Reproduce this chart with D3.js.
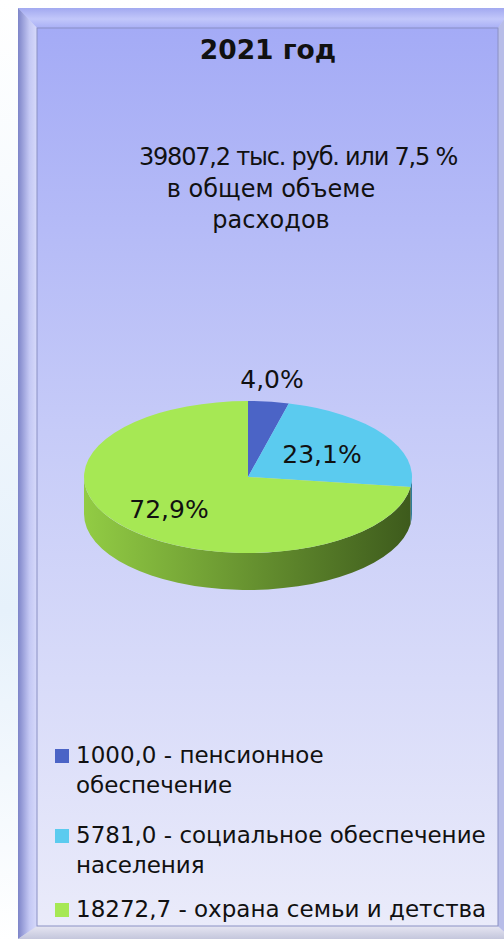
<!DOCTYPE html>
<html>
<head>
<meta charset="utf-8">
<script src="https://cdn.jsdelivr.net/npm/d3@7"></script>
<style>
  body { margin: 0; background: #ffffff; }
  svg { display: block; }
  text { font-family: "DejaVu Sans", Verdana, sans-serif; fill: #111; }
</style>
</head>
<body>
<div id="chart"></div>
<script>
// data
var title = "2021 год";
var subtitle = ["39807,2 тыс. руб. или 7,5 %", "в общем объеме", "расходов"];
var shares = [4.0, 23.1, 72.9];
var shareLabels = ["4,0%", "23,1%", "72,9%"];
var legendLines = [
    ["1000,0 - пенсионное", "обеспечение"],
    ["5781,0 - социальное обеспечение", "населения"],
    ["18272,7 - охрана семьи и детства"]
];
var colors = ["#4b64c6", "#5bcbef", "#a6e854"];
var sideDark = ["#2c3d80", "#2f7d99", "#3d5a1c"];
var sideLight = ["#4b64c6", "#58bde0", "#92cc44"];

var width = 504, height = 940;

var svg = d3.select("#chart").append("svg")
    .attr("width", width)
    .attr("height", height);

var defs = svg.append("defs");

// page background with a faint blue haze on the left
var bgGrad = defs.append("linearGradient").attr("id", "pagebg")
    .attr("x1", 0).attr("y1", 0).attr("x2", 0).attr("y2", 1);
bgGrad.append("stop").attr("offset", "0%").attr("stop-color", "#ffffff");
bgGrad.append("stop").attr("offset", "65%").attr("stop-color", "#e6f1fb");
bgGrad.append("stop").attr("offset", "100%").attr("stop-color", "#ffffff");
svg.append("rect").attr("width", width).attr("height", height).attr("fill", "url(#pagebg)");

// frame geometry
var outer = {x0: 18, y0: 8, x1: 512, y1: 939};
var inner = {x0: 37, y0: 28, x1: 498, y1: 926};

var panelGrad = defs.append("linearGradient").attr("id", "panel")
    .attr("x1", 0).attr("y1", 0).attr("x2", 0).attr("y2", 1);
panelGrad.append("stop").attr("offset", "0%").attr("stop-color", "#a4abf6");
panelGrad.append("stop").attr("offset", "45%").attr("stop-color", "#c6cbf8");
panelGrad.append("stop").attr("offset", "100%").attr("stop-color", "#eaebfa");

var leftGrad = defs.append("linearGradient").attr("id", "bevelLeft")
    .attr("x1", 0).attr("y1", 0).attr("x2", 1).attr("y2", 0);
leftGrad.append("stop").attr("offset", "0%").attr("stop-color", "#7d84c8");
leftGrad.append("stop").attr("offset", "60%").attr("stop-color", "#c4c8f4");
leftGrad.append("stop").attr("offset", "100%").attr("stop-color", "#d6d9fa");

var topGrad = defs.append("linearGradient").attr("id", "bevelTop")
    .attr("x1", 0).attr("y1", 0).attr("x2", 0).attr("y2", 1);
topGrad.append("stop").attr("offset", "0%").attr("stop-color", "#a2a9f0");
topGrad.append("stop").attr("offset", "55%").attr("stop-color", "#c2c7fa");
topGrad.append("stop").attr("offset", "100%").attr("stop-color", "#a9b0f6");

var bottomGrad = defs.append("linearGradient").attr("id", "bevelBottom")
    .attr("x1", 0).attr("y1", 0).attr("x2", 0).attr("y2", 1);
bottomGrad.append("stop").attr("offset", "0%").attr("stop-color", "#e6e6f2");
bottomGrad.append("stop").attr("offset", "100%").attr("stop-color", "#c4c6dc");

var frame = svg.append("g");
frame.append("rect")
    .attr("x", outer.x0).attr("y", outer.y0)
    .attr("width", outer.x1 - outer.x0).attr("height", outer.y1 - outer.y0)
    .attr("fill", "#c8ccf6");
frame.append("polygon")
    .attr("points", [[outer.x0, outer.y0], [outer.x1, outer.y0], [inner.x1, inner.y0], [inner.x0, inner.y0]].join(" "))
    .attr("fill", "url(#bevelTop)");
frame.append("polygon")
    .attr("points", [[outer.x0, outer.y0], [inner.x0, inner.y0], [inner.x0, inner.y1], [outer.x0, outer.y1]].join(" "))
    .attr("fill", "url(#bevelLeft)");
frame.append("polygon")
    .attr("points", [[outer.x0, outer.y1], [inner.x0, inner.y1], [inner.x1, inner.y1], [outer.x1, outer.y1]].join(" "))
    .attr("fill", "url(#bevelBottom)");
frame.append("polygon")
    .attr("points", [[outer.x1, outer.y0], [outer.x1, outer.y1], [inner.x1, inner.y1], [inner.x1, inner.y0]].join(" "))
    .attr("fill", "#b8bde8");
frame.append("rect")
    .attr("x", inner.x0).attr("y", inner.y0)
    .attr("width", inner.x1 - inner.x0).attr("height", inner.y1 - inner.y0)
    .attr("fill", "url(#panel)")
    .attr("stroke", "#8a90c4")
    .attr("stroke-width", 1);

// title + subtitle
svg.append("text")
    .attr("x", 268).attr("y", 59)
    .attr("text-anchor", "middle")
    .attr("font-size", 26.5)
    .attr("font-weight", "bold")
    .text(title);

var subX = [298, 271, 271];
var subY = [165, 197, 228];
svg.selectAll(".sub")
    .data(subtitle)
    .enter().append("text")
    .attr("class", "sub")
    .attr("x", (d, i) => subX[i])
    .attr("y", (d, i) => subY[i])
    .attr("text-anchor", "middle")
    .attr("font-size", 24)
    .attr("letter-spacing", (d, i) => i === 0 ? -1.2 : 0)
    .text(d => d);

// 3d pie
var cx = 248, cy = 477, rx = 164, ry = 76, depth = 37;

var pie = d3.pie().sort(null).value(d => d);
var arcs = pie(shares);

function pt(a, dy) {
    return [cx + rx * Math.sin(a), cy - ry * Math.cos(a) + (dy || 0)];
}

function topPath(d) {
    var p0 = pt(d.startAngle), p1 = pt(d.endAngle);
    var large = d.endAngle - d.startAngle > Math.PI ? 1 : 0;
    return "M" + cx + "," + cy + "L" + p0 + "A" + rx + "," + ry + " 0 " + large + " 1 " + p1 + "Z";
}

function sidePath(d) {
    var s = Math.max(d.startAngle, Math.PI / 2);
    var e = Math.min(d.endAngle, Math.PI * 3 / 2);
    if (s >= e) return null;
    var a = pt(s), b = pt(e), c = pt(e, depth), f = pt(s, depth);
    return "M" + a + "A" + rx + "," + ry + " 0 0 1 " + b +
        "L" + c + "A" + rx + "," + ry + " 0 0 0 " + f + "Z";
}

arcs.forEach(function(d, i) {
    var g = defs.append("linearGradient").attr("id", "side" + i)
        .attr("gradientUnits", "userSpaceOnUse")
        .attr("x1", cx - rx).attr("y1", 0).attr("x2", cx + rx).attr("y2", 0);
    g.append("stop").attr("offset", "0%").attr("stop-color", sideLight[i]);
    g.append("stop").attr("offset", "100%").attr("stop-color", sideDark[i]);
});

var pieG = svg.append("g");
pieG.selectAll(".side")
    .data(arcs.filter(d => sidePath(d)))
    .enter().append("path")
    .attr("class", "side")
    .attr("d", sidePath)
    .attr("fill", d => "url(#side" + d.index + ")");

pieG.selectAll(".top")
    .data(arcs)
    .enter().append("path")
    .attr("class", "top")
    .attr("d", topPath)
    .attr("fill", (d, i) => colors[i]);

// data labels
var labelPos = [[272, 388], [322, 463], [169, 518]];
pieG.selectAll(".lbl")
    .data(arcs)
    .enter().append("text")
    .attr("class", "lbl")
    .attr("x", (d, i) => labelPos[i][0])
    .attr("y", (d, i) => labelPos[i][1])
    .attr("text-anchor", "middle")
    .attr("font-size", 25)
    .text((d, i) => shareLabels[i]);

// legend
var legendY = [763, 843, 917];
var legend = svg.append("g");
legendLines.forEach(function(lines, i) {
    legend.append("rect")
        .attr("x", 55).attr("y", legendY[i] - 14)
        .attr("width", 14).attr("height", 14)
        .attr("fill", colors[i]);
    lines.forEach(function(t, j) {
        legend.append("text")
            .attr("x", 76)
            .attr("y", legendY[i] + j * 30)
            .attr("font-size", 23)
            .text(t);
    });
});
</script>
</body>
</html>
